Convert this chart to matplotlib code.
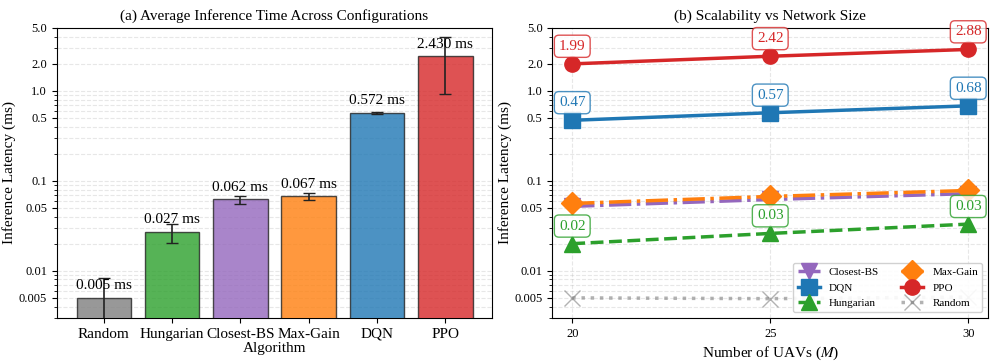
import matplotlib
matplotlib.use("Agg")
import matplotlib.pyplot as plt
import numpy as np

plt.rcParams['font.family'] = ['Liberation Serif', 'DejaVu Serif']
plt.rcParams['mathtext.fontset'] = 'stix'

# Left panel data
algorithms = ["Random", "Hungarian", "Closest-BS", "Max-Gain", "DQN", "PPO"]
mean_times = [0.005, 0.027, 0.062, 0.067, 0.572, 2.430]
std_times = [0.0033, 0.0065, 0.0065, 0.0055, 0.015, 1.5]
bar_colors = ["#7f7f7f", "#2ca02c", "#9467bd", "#ff7f0e", "#1f77b4", "#d62728"]

# Right panel data
num_uavs = [20, 25, 30]
series_names = ["Closest-BS", "DQN", "Hungarian", "Max-Gain", "PPO", "Random"]
series_vals = {
    "Closest-BS": [0.052, 0.062, 0.072],
    "DQN": [0.47, 0.57, 0.68],
    "Hungarian": [0.020, 0.026, 0.033],
    "Max-Gain": [0.056, 0.067, 0.078],
    "PPO": [1.99, 2.42, 2.88],
    "Random": [0.0050, 0.0049, 0.0051],
}
series_style = {
    "Closest-BS": dict(color="#9467bd", marker="v", ls="-.", alpha=1.0),
    "DQN": dict(color="#1f77b4", marker="s", ls="-", alpha=1.0),
    "Hungarian": dict(color="#2ca02c", marker="^", ls="--", alpha=1.0),
    "Max-Gain": dict(color="#ff7f0e", marker="D", ls="-.", alpha=1.0),
    "PPO": dict(color="#d62728", marker="o", ls="-", alpha=1.0),
    "Random": dict(color="#7f7f7f", marker="x", ls=":", alpha=0.6),
}
annotated = ["PPO", "DQN", "Hungarian"]

yticks = [0.005, 0.01, 0.05, 0.1, 0.5, 1.0, 2.0, 5.0]
ytick_labels = ["0.005", "0.01", "0.05", "0.1", "0.5", "1.0", "2.0", "5.0"]

fig, (ax1, ax2) = plt.subplots(1, 2, figsize=(9.96, 3.62), dpi=100)
fig.subplots_adjust(left=0.057, right=0.992, top=0.923, bottom=0.122, wspace=0.138)

# ---- Left ----
x = np.arange(len(algorithms))
ax1.bar(x, mean_times, width=0.8, color=bar_colors, alpha=0.8,
        edgecolor="#222222", linewidth=1.0, zorder=3)
ax1.errorbar(x, mean_times, yerr=std_times, fmt="none", ecolor="#222222",
             elinewidth=1.2, capsize=4, zorder=4)
for xi, v in zip(x, mean_times):
    ax1.annotate(f"{v:.3f} ms", (xi, v), xytext=(0, 4), textcoords="offset points",
                 ha="center", va="bottom", fontsize=11, zorder=5)
ax1.set_yscale("log")
ax1.set_ylim(0.003, 5.0)
ax1.set_yticks(yticks)
ax1.set_yticklabels(ytick_labels)
ax1.set_xticks(x)
ax1.set_xticklabels(algorithms, fontsize=11)
ax1.set_xlabel("Algorithm", fontsize=11, labelpad=1)
ax1.set_ylabel("Inference Latency (ms)", fontsize=11, labelpad=2)
ax1.set_title("(a) Average Inference Time Across Configurations", fontsize=11)
ax1.grid(axis="y", which="both", ls="--", alpha=0.3, zorder=0)
ax1.set_axisbelow(True)
ax1.tick_params(axis="y", labelsize=9)

# ---- Right ----
for name in series_names:
    st = series_style[name]
    ax2.plot(num_uavs, series_vals[name], color=st["color"], marker=st["marker"],
             ls=st["ls"], lw=2.5, markersize=11, alpha=st["alpha"], label=name, zorder=3)
for name in annotated:
    col = series_style[name]["color"]
    for xv, yv in zip(num_uavs, series_vals[name]):
        ax2.annotate(f"{yv:.2f}", (xv, yv), xytext=(0, 8), textcoords="offset points",
                     ha="center", va="bottom", fontsize=11, color=col, zorder=6,
                     bbox=dict(boxstyle="round,pad=0.3", fc="white", ec=col, alpha=0.8))
ax2.set_yscale("log")
ax2.set_ylim(0.003, 5.0)
ax2.set_yticks(yticks)
ax2.set_yticklabels(ytick_labels)
ax2.set_xlim(19.5, 30.5)
ax2.set_xticks(num_uavs)
ax2.set_xlabel("Number of UAVs ($M$)", fontsize=11)
ax2.set_ylabel("Inference Latency (ms)", fontsize=11, labelpad=2)
ax2.set_title("(b) Scalability vs Network Size", fontsize=11)
ax2.grid(which="both", ls="--", alpha=0.3)
ax2.tick_params(labelsize=9)
ax2.legend(loc="lower right", ncol=2, fontsize=8, framealpha=0.9)

fig.savefig("out.png", dpi=100)
